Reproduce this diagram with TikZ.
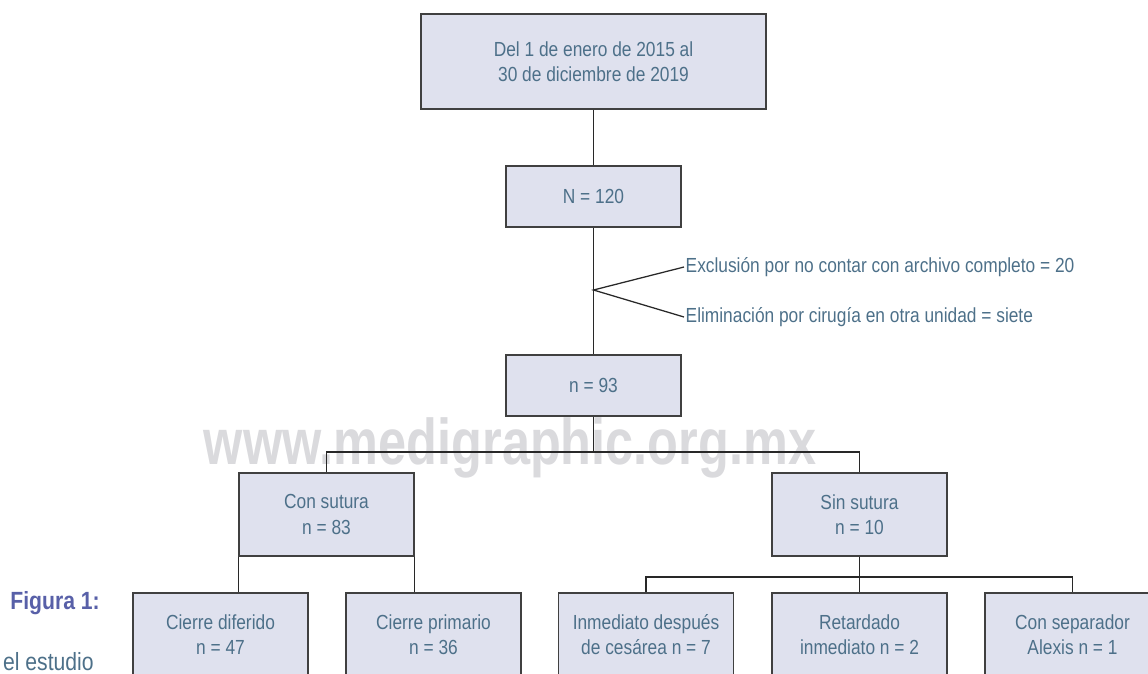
\documentclass[tikz,border=0pt]{standalone}
\usepackage{fontspec}
\setmainfont{Liberation Sans}[FakeStretch=0.85]
\newfontfamily\markfont{Liberation Sans}[FakeStretch=0.78]
\definecolor{boxfill}{RGB}{223,225,238}
\definecolor{boxline}{RGB}{64,64,64}
\definecolor{linkcol}{RGB}{40,40,40}
\definecolor{labeltext}{RGB}{77,112,137}
\definecolor{figtext}{RGB}{88,96,168}
\definecolor{markgray}{RGB}{218,218,221}

\begin{document}
\begin{tikzpicture}[x=0.025cm, y=-0.025cm,
    box/.style={draw=boxline, fill=boxfill, line width=1.1pt, text=labeltext,
      align=center, inner sep=0pt, font=\fontsize{14.5}{18}\selectfont},
    narrow/.style={box, minimum width=4.375cm, minimum height=1.525cm},
    tier/.style={box, minimum width=4.375cm, minimum height=2.075cm},
    link/.style={draw=linkcol, line width=0.9pt},
    note/.style={text=labeltext, anchor=west, inner sep=1pt,
      font=\fontsize{14.5}{18}\selectfont}]
  \useasboundingbox (0,0) rectangle (1148,673);
  \clip (0,0) rectangle (1148,673);

  % watermark
  \node [anchor=base, inner sep=0pt, text=markgray,
    font=\markfont\bfseries\fontsize{46}{50}\selectfont] (mark) at (510,464) {www.medigraphic.org.mx};

  % caption remains
  \node [anchor=east, inner sep=0pt, text=figtext,
    font=\bfseries\fontsize{17.7}{20}\selectfont] (fig) at (100,603) {Figura 1:};
  \node [anchor=base east, inner sep=0pt, text=labeltext,
    font=\fontsize{17.7}{20}\selectfont] (estudio) at (94,670) {el estudio};

  % boxes
  \node [box, minimum width=8.625cm, minimum height=2.375cm] (periodo) at (593.5,61.5)
    {Del 1 de enero de 2015 al\\30 de diciembre de 2019};
  \node [narrow] (total) at (593.5,196.5) {N = 120};
  \node [narrow] (incl) at (593.5,385.5) {n = 93};

  \node [tier] (consut) at (326.5,514.5) {Con sutura\\n = 83};
  \node [tier] (sinsut) at (859.5,514.5) {Sin sutura\\n = 10};

  \node [tier] (diferido) at (220.5,634.5) {Cierre diferido\\n = 47};
  \node [tier] (primario) at (433.5,634.5) {Cierre primario\\n = 36};
  \node [tier] (inmediato) at (646,634.5) {Inmediato después\\de cesárea n = 7};
  \node [tier] (retardado) at (859.5,634.5) {Retardado\\inmediato n = 2};
  \node [tier] (alexis) at (1072.5,634.5) {Con separador\\Alexis n = 1};

  % exclusions
  \coordinate (split) at (593.5,290);
  \node [note] (exclu) at (684,267) {Exclusión por no contar con archivo completo = 20};
  \node [note] (elim) at (684,317) {Eliminación por cirugía en otra unidad = siete};

  % connectors
  \draw [link] (periodo) -- (total);
  \draw [link] (total) -- (incl);
  \draw [link] (exclu.west) -- (split) -- (elim.west);

  \coordinate (fork) at (593.5,452);
  \draw [link] (incl) -- (fork);
  \draw [link] (consut.north) |- (fork) -| (sinsut.north);

  \draw [link] (consut.south west) -- (consut.south west |- diferido.north);
  \draw [link] (consut.south east) -- (consut.south east |- primario.north);

  \coordinate (fork2) at (859.5,577);
  \draw [link] (sinsut) -- (retardado);
  \draw [link] (inmediato.north) |- (fork2) -| (alexis.north);
\end{tikzpicture}
\end{document}
